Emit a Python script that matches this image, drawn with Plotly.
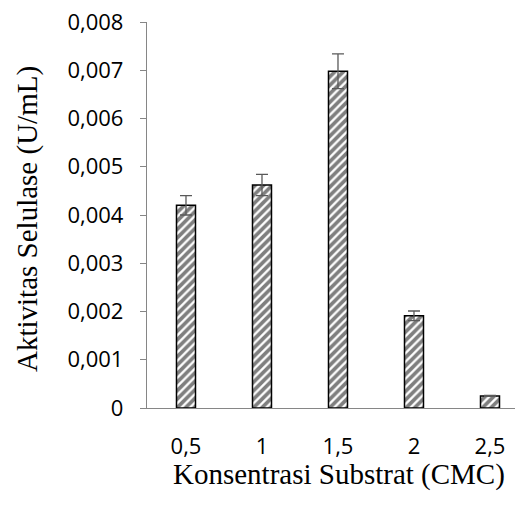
import plotly.graph_objects as go

categories = ["0,5", "1", "1,5", "2", "2,5"]
activity = [0.0042, 0.00462, 0.00698, 0.00191, 0.00025]
errors = [0.0002, 0.00022, 0.00036, 0.0001, 0.00001]
y_ticks = [0, 0.001, 0.002, 0.003, 0.004, 0.005, 0.006, 0.007, 0.008]
y_tick_labels = ["0", "0,001", "0,002", "0,003", "0,004", "0,005", "0,006", "0,007", "0,008"]

fig = go.Figure()
fig.add_trace(go.Bar(
    x=categories,
    y=activity,
    width=0.25,
    marker=dict(
        color="white",
        line=dict(color="black", width=1.5),
        pattern=dict(shape="/", fgcolor="black", bgcolor="white", size=6, solidity=0.62),
    ),
    error_y=dict(type="data", array=errors, visible=True, color="#595959", thickness=1.3, width=6),
    showlegend=False,
))

fig.update_layout(
    width=517, height=507,
    margin=dict(l=147, r=2, t=22, b=99),
    paper_bgcolor="white", plot_bgcolor="white",
    font=dict(family="Open Sans", size=22, color="black"),
    xaxis=dict(
        type="category",
        range=[-0.513, 4.329],
        showline=True, linecolor="#868686", linewidth=1.3,
        ticks="", showgrid=False, zeroline=False,
        tickfont=dict(family="Open Sans", size=22, color="black"),
        ticklabelstandoff=18,
    ),
    yaxis=dict(
        range=[0, 0.008],
        tickvals=y_ticks, ticktext=y_tick_labels,
        showline=True, linecolor="#868686", linewidth=1.3,
        ticks="outside", ticklen=6, tickcolor="#868686", tickwidth=1.3,
        showgrid=False, zeroline=False,
        tickfont=dict(family="Open Sans", size=22, color="black"),
        ticklabelstandoff=12,
    ),
    annotations=[
        dict(text="Konsentrasi Substrat (CMC)", xref="paper", yref="paper",
             x=(339 - 147) / 368, y=-66 / 386, xanchor="center", yanchor="middle",
             showarrow=False, font=dict(family="Liberation Serif", size=29, color="black")),
        dict(text="Aktivitas Selulase (U/mL)", xref="paper", yref="paper",
             x=-120 / 368, y=1 - (219 - 22) / 386, xanchor="center", yanchor="middle",
             textangle=-90,
             showarrow=False, font=dict(family="Liberation Serif", size=29, color="black")),
    ],
)

fig.write_html("out.html")
